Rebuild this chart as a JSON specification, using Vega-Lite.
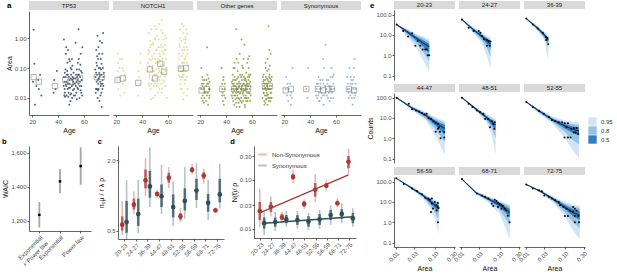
{
"$schema":"https://vega.github.io/schema/vega-lite/v6.json",
"padding":1,
"config":{"font":"Liberation Sans","view":{"stroke":null},
"axis":{"grid":false,"domainColor":"#222","domainWidth":0.7,"tickColor":"#222","tickWidth":0.7,"tickSize":2,"labelFontSize":6,"labelColor":"#4d4d4d","labelPadding":1,"titleFontSize":7,"titleFontWeight":"normal","titleColor":"#111","titlePadding":2},
"title":{"fontSize":7.5,"fontWeight":"bold","anchor":"start","frame":"bounds","offset":1,"color":"#000"},
"legend":{"labelFontSize":6,"labelColor":"#333"}},
"datasets":{
"aLab":[{"n":"TP53"},{"n":"NOTCH1"},{"n":"Other genes"},{"n":"Synonymous"}],
"a":[
{"k":"p","g":"T","a":21,"v":1.9},{"k":"p","g":"T","a":21.5,"v":0.14},{"k":"p","g":"T","a":22,"v":0.006},{"k":"p","g":"T","a":20.5,"v":0.035},{"k":"p","g":"T","a":23,"v":0.025},{"k":"p","g":"T","a":25,"v":0.02},{"k":"p","g":"T","a":26,"v":0.06},{"k":"p","g":"T","a":27,"v":0.012},{"k":"p","g":"T","a":24.5,"v":0.04},{"k":"p","g":"T","a":37,"v":0.04},{"k":"p","g":"T","a":38,"v":0.02},{"k":"p","g":"T","a":36.5,"v":0.015},{"k":"p","g":"T","a":39,"v":0.08},
{"k":"p","g":"T","a":44.5,"v":0.9},{"k":"p","g":"T","a":45,"v":0.02},{"k":"p","g":"T","a":45.5,"v":0.05},{"k":"p","g":"T","a":46,"v":0.3},{"k":"p","g":"T","a":46.5,"v":0.012},{"k":"p","g":"T","a":47,"v":0.08},{"k":"p","g":"T","a":47.5,"v":0.03},{"k":"p","g":"T","a":48,"v":0.015},{"k":"p","g":"T","a":48.5,"v":0.2},{"k":"p","g":"T","a":49,"v":0.04},{"k":"p","g":"T","a":49.5,"v":0.008},{"k":"p","g":"T","a":50,"v":0.06},{"k":"p","g":"T","a":50.5,"v":0.025},{"k":"p","g":"T","a":51,"v":0.12},{"k":"p","g":"T","a":51.5,"v":0.018},{"k":"p","g":"T","a":52,"v":0.045},{"k":"p","g":"T","a":46.2,"v":0.5},{"k":"p","g":"T","a":48.7,"v":0.006},{"k":"p","g":"T","a":44.8,"v":0.035},{"k":"p","g":"T","a":50.8,"v":0.01},{"k":"p","g":"T","a":45.2,"v":0.07},{"k":"p","g":"T","a":47.2,"v":0.15},{"k":"p","g":"T","a":49.2,"v":0.022},{"k":"p","g":"T","a":51.2,"v":0.05},
{"k":"p","g":"T","a":44.3,"v":0.025},{"k":"p","g":"T","a":44.7,"v":0.012},{"k":"p","g":"T","a":45.7,"v":0.09},{"k":"p","g":"T","a":46.3,"v":0.025},{"k":"p","g":"T","a":46.7,"v":0.06},{"k":"p","g":"T","a":47.3,"v":0.02},{"k":"p","g":"T","a":47.7,"v":0.4},{"k":"p","g":"T","a":48.3,"v":0.05},{"k":"p","g":"T","a":48.9,"v":0.03},{"k":"p","g":"T","a":49.7,"v":0.1},{"k":"p","g":"T","a":50.2,"v":0.014},{"k":"p","g":"T","a":50.7,"v":0.2},{"k":"p","g":"T","a":51.7,"v":0.035},{"k":"p","g":"T","a":51.9,"v":0.07},{"k":"p","g":"T","a":45.1,"v":0.015},{"k":"p","g":"T","a":49.9,"v":0.045},{"k":"p","g":"T","a":52.3,"v":0.02},
{"k":"p","g":"T","a":44.4,"v":0.05},{"k":"p","g":"T","a":45.4,"v":0.011},{"k":"p","g":"T","a":46.4,"v":0.035},{"k":"p","g":"T","a":47.4,"v":0.06},{"k":"p","g":"T","a":48.4,"v":0.022},{"k":"p","g":"T","a":49.4,"v":0.013},{"k":"p","g":"T","a":50.4,"v":0.09},{"k":"p","g":"T","a":51.4,"v":0.028},{"k":"p","g":"T","a":52.1,"v":0.012},{"k":"p","g":"T","a":45.9,"v":0.028},{"k":"p","g":"T","a":47.9,"v":0.011},{"k":"p","g":"T","a":49.1,"v":0.17},{"k":"p","g":"T","a":50.9,"v":0.04},
{"k":"p","g":"T","a":53,"v":0.03},{"k":"p","g":"T","a":53.5,"v":0.7},{"k":"p","g":"T","a":54,"v":0.015},{"k":"p","g":"T","a":54.5,"v":0.09},{"k":"p","g":"T","a":55,"v":0.04},{"k":"p","g":"T","a":55.5,"v":0.02},{"k":"p","g":"T","a":56,"v":0.2},{"k":"p","g":"T","a":56.5,"v":0.01},{"k":"p","g":"T","a":57,"v":0.05},{"k":"p","g":"T","a":57.5,"v":0.3},{"k":"p","g":"T","a":58,"v":0.025},{"k":"p","g":"T","a":58.5,"v":0.012},{"k":"p","g":"T","a":55.8,"v":2.0},{"k":"p","g":"T","a":53.8,"v":0.06},{"k":"p","g":"T","a":57.2,"v":0.13},{"k":"p","g":"T","a":54.2,"v":0.035},
{"k":"p","g":"T","a":53.2,"v":0.012},{"k":"p","g":"T","a":53.7,"v":0.025},{"k":"p","g":"T","a":54.7,"v":0.05},{"k":"p","g":"T","a":55.2,"v":0.15},{"k":"p","g":"T","a":55.7,"v":0.03},{"k":"p","g":"T","a":56.2,"v":0.06},{"k":"p","g":"T","a":56.7,"v":0.025},{"k":"p","g":"T","a":57.7,"v":0.08},{"k":"p","g":"T","a":58.2,"v":0.04},{"k":"p","g":"T","a":58.7,"v":0.5},{"k":"p","g":"T","a":54.4,"v":0.009},{"k":"p","g":"T","a":57.4,"v":0.018},
{"k":"p","g":"T","a":53.4,"v":0.045},{"k":"p","g":"T","a":54.9,"v":0.022},{"k":"p","g":"T","a":56.4,"v":0.09},{"k":"p","g":"T","a":57.9,"v":0.015},{"k":"p","g":"T","a":58.4,"v":0.07},{"k":"p","g":"T","a":55.4,"v":0.06},{"k":"p","g":"T","a":56.9,"v":0.035},
{"k":"p","g":"T","a":69,"v":0.05},{"k":"p","g":"T","a":69.5,"v":0.4},{"k":"p","g":"T","a":70,"v":0.02},{"k":"p","g":"T","a":70.5,"v":1.2},{"k":"p","g":"T","a":71,"v":0.03},{"k":"p","g":"T","a":71.5,"v":0.1},{"k":"p","g":"T","a":72,"v":0.008},{"k":"p","g":"T","a":72.5,"v":0.06},{"k":"p","g":"T","a":73,"v":0.2},{"k":"p","g":"T","a":73.5,"v":0.015},{"k":"p","g":"T","a":74,"v":0.7},{"k":"p","g":"T","a":74.5,"v":0.04},{"k":"p","g":"T","a":75,"v":0.025},{"k":"p","g":"T","a":70.2,"v":0.25},{"k":"p","g":"T","a":72.8,"v":0.012},{"k":"p","g":"T","a":74.8,"v":1.5},{"k":"p","g":"T","a":71.8,"v":0.07},{"k":"p","g":"T","a":69.8,"v":0.035},{"k":"p","g":"T","a":73.8,"v":0.005},{"k":"p","g":"T","a":70.8,"v":0.018},{"k":"p","g":"T","a":73.2,"v":0.09},{"k":"p","g":"T","a":74.2,"v":0.3},{"k":"p","g":"T","a":71.2,"v":0.5},
{"k":"p","g":"T","a":68.7,"v":0.09},{"k":"p","g":"T","a":69.3,"v":0.02},{"k":"p","g":"T","a":69.7,"v":0.15},{"k":"p","g":"T","a":70.3,"v":0.06},{"k":"p","g":"T","a":70.7,"v":0.04},{"k":"p","g":"T","a":71.3,"v":0.02},{"k":"p","g":"T","a":71.7,"v":0.3},{"k":"p","g":"T","a":72.2,"v":0.05},{"k":"p","g":"T","a":72.7,"v":0.1},{"k":"p","g":"T","a":73.3,"v":0.03},{"k":"p","g":"T","a":73.7,"v":0.06},{"k":"p","g":"T","a":74.3,"v":0.02},{"k":"p","g":"T","a":74.7,"v":0.1},{"k":"p","g":"T","a":75.2,"v":0.05},{"k":"p","g":"T","a":72.4,"v":0.8},{"k":"p","g":"T","a":70.6,"v":0.01},
{"k":"p","g":"T","a":69.4,"v":0.07},{"k":"p","g":"T","a":70.1,"v":0.12},{"k":"p","g":"T","a":71.4,"v":0.045},{"k":"p","g":"T","a":72.9,"v":0.025},{"k":"p","g":"T","a":73.6,"v":0.14},{"k":"p","g":"T","a":74.4,"v":0.03},{"k":"p","g":"T","a":75.4,"v":0.07},{"k":"p","g":"T","a":69.1,"v":0.015},{"k":"p","g":"T","a":70.9,"v":0.2},{"k":"p","g":"T","a":72.6,"v":0.035},
{"k":"p","g":"N","a":21,"v":0.3},{"k":"p","g":"N","a":21.5,"v":0.02},{"k":"p","g":"N","a":22,"v":0.05},{"k":"p","g":"N","a":22.5,"v":0.1},{"k":"p","g":"N","a":23,"v":0.012},{"k":"p","g":"N","a":20.5,"v":0.04},{"k":"p","g":"N","a":24.5,"v":0.2},{"k":"p","g":"N","a":25,"v":0.03},{"k":"p","g":"N","a":25.5,"v":0.08},{"k":"p","g":"N","a":26,"v":0.015},{"k":"p","g":"N","a":26.5,"v":0.06},{"k":"p","g":"N","a":37,"v":0.08},{"k":"p","g":"N","a":38,"v":0.03},{"k":"p","g":"N","a":38.5,"v":0.15},{"k":"p","g":"N","a":36.5,"v":0.012},
{"k":"p","g":"N","a":20.8,"v":0.08},{"k":"p","g":"N","a":22.8,"v":0.2},{"k":"p","g":"N","a":24.8,"v":0.1},{"k":"p","g":"N","a":26.3,"v":0.04},{"k":"p","g":"N","a":37.6,"v":0.05},{"k":"p","g":"N","a":38.8,"v":0.3},{"k":"p","g":"N","a":21.3,"v":0.15},
{"k":"p","g":"N","a":44.5,"v":0.3},{"k":"p","g":"N","a":45,"v":1.5},{"k":"p","g":"N","a":45.5,"v":0.05},{"k":"p","g":"N","a":46,"v":0.12},{"k":"p","g":"N","a":46.5,"v":0.02},{"k":"p","g":"N","a":47,"v":0.6},{"k":"p","g":"N","a":47.5,"v":0.04},{"k":"p","g":"N","a":48,"v":0.2},{"k":"p","g":"N","a":48.5,"v":0.01},{"k":"p","g":"N","a":49,"v":0.08},{"k":"p","g":"N","a":49.5,"v":2.5},{"k":"p","g":"N","a":50,"v":0.03},{"k":"p","g":"N","a":50.5,"v":0.15},{"k":"p","g":"N","a":51,"v":0.06},{"k":"p","g":"N","a":51.5,"v":0.4},{"k":"p","g":"N","a":52,"v":0.015},{"k":"p","g":"N","a":52.5,"v":0.1},{"k":"p","g":"N","a":53,"v":0.9},{"k":"p","g":"N","a":53.5,"v":0.04},{"k":"p","g":"N","a":54,"v":0.25},{"k":"p","g":"N","a":54.5,"v":0.07},{"k":"p","g":"N","a":55,"v":4.0},{"k":"p","g":"N","a":55.5,"v":0.02},{"k":"p","g":"N","a":56,"v":0.5},{"k":"p","g":"N","a":56.5,"v":0.13},{"k":"p","g":"N","a":57,"v":0.035},{"k":"p","g":"N","a":57.5,"v":1.2},{"k":"p","g":"N","a":58,"v":0.06},{"k":"p","g":"N","a":58.5,"v":0.2},{"k":"p","g":"N","a":59,"v":0.01},{"k":"p","g":"N","a":46.8,"v":0.009},{"k":"p","g":"N","a":51.2,"v":0.025},{"k":"p","g":"N","a":54.8,"v":1.8},{"k":"p","g":"N","a":48.2,"v":0.7},{"k":"p","g":"N","a":56.8,"v":0.3},{"k":"p","g":"N","a":52.8,"v":0.05},{"k":"p","g":"N","a":45.8,"v":0.35},{"k":"p","g":"N","a":49.8,"v":0.9},{"k":"p","g":"N","a":53.8,"v":0.18},{"k":"p","g":"N","a":57.8,"v":0.6},
{"k":"p","g":"N","a":44.2,"v":0.08},{"k":"p","g":"N","a":44.8,"v":0.03},{"k":"p","g":"N","a":45.3,"v":0.2},{"k":"p","g":"N","a":45.9,"v":0.06},{"k":"p","g":"N","a":46.3,"v":0.5},{"k":"p","g":"N","a":46.6,"v":0.08},{"k":"p","g":"N","a":47.3,"v":0.03},{"k":"p","g":"N","a":47.8,"v":0.25},{"k":"p","g":"N","a":48.4,"v":0.12},{"k":"p","g":"N","a":48.8,"v":0.04},{"k":"p","g":"N","a":49.3,"v":0.3},{"k":"p","g":"N","a":49.6,"v":0.06},{"k":"p","g":"N","a":50.3,"v":1.0},{"k":"p","g":"N","a":50.8,"v":0.09},{"k":"p","g":"N","a":51.4,"v":0.15},{"k":"p","g":"N","a":51.8,"v":0.03},{"k":"p","g":"N","a":52.3,"v":0.2},{"k":"p","g":"N","a":52.6,"v":0.5},{"k":"p","g":"N","a":53.3,"v":0.08},{"k":"p","g":"N","a":53.6,"v":0.3},{"k":"p","g":"N","a":54.3,"v":0.05},{"k":"p","g":"N","a":54.6,"v":0.6},{"k":"p","g":"N","a":55.3,"v":0.1},{"k":"p","g":"N","a":55.8,"v":0.2},{"k":"p","g":"N","a":56.3,"v":0.04},{"k":"p","g":"N","a":56.6,"v":0.9},{"k":"p","g":"N","a":57.3,"v":0.15},{"k":"p","g":"N","a":57.6,"v":0.05},{"k":"p","g":"N","a":58.3,"v":0.4},{"k":"p","g":"N","a":58.8,"v":0.1},{"k":"p","g":"N","a":55.1,"v":0.015},{"k":"p","g":"N","a":50.1,"v":0.012},{"k":"p","g":"N","a":47.1,"v":2.0},{"k":"p","g":"N","a":53.1,"v":3.0},
{"k":"p","g":"N","a":44.6,"v":0.15},{"k":"p","g":"N","a":45.1,"v":0.4},{"k":"p","g":"N","a":45.6,"v":0.025},{"k":"p","g":"N","a":46.1,"v":0.8},{"k":"p","g":"N","a":46.9,"v":0.18},{"k":"p","g":"N","a":47.6,"v":0.1},{"k":"p","g":"N","a":48.6,"v":0.6},{"k":"p","g":"N","a":49.1,"v":0.025},{"k":"p","g":"N","a":49.9,"v":0.2},{"k":"p","g":"N","a":50.6,"v":0.4},{"k":"p","g":"N","a":51.1,"v":0.045},{"k":"p","g":"N","a":51.6,"v":1.2},{"k":"p","g":"N","a":52.1,"v":0.07},{"k":"p","g":"N","a":52.9,"v":0.15},{"k":"p","g":"N","a":53.4,"v":0.02},{"k":"p","g":"N","a":53.9,"v":0.5},{"k":"p","g":"N","a":54.4,"v":0.12},{"k":"p","g":"N","a":54.9,"v":0.03},{"k":"p","g":"N","a":55.6,"v":0.35},{"k":"p","g":"N","a":56.1,"v":0.07},{"k":"p","g":"N","a":56.9,"v":0.12},{"k":"p","g":"N","a":57.4,"v":0.4},{"k":"p","g":"N","a":57.9,"v":0.08},{"k":"p","g":"N","a":58.6,"v":1.0},{"k":"p","g":"N","a":58.1,"v":0.025},{"k":"p","g":"N","a":46.4,"v":0.03},{"k":"p","g":"N","a":50.9,"v":2.0},{"k":"p","g":"N","a":55.9,"v":1.5},
{"k":"p","g":"N","a":68.5,"v":0.2},{"k":"p","g":"N","a":69,"v":0.05},{"k":"p","g":"N","a":69.5,"v":1.0},{"k":"p","g":"N","a":70,"v":0.1},{"k":"p","g":"N","a":70.5,"v":0.02},{"k":"p","g":"N","a":71,"v":0.4},{"k":"p","g":"N","a":71.5,"v":0.06},{"k":"p","g":"N","a":72,"v":2.5},{"k":"p","g":"N","a":72.5,"v":0.15},{"k":"p","g":"N","a":73,"v":0.03},{"k":"p","g":"N","a":73.5,"v":0.7},{"k":"p","g":"N","a":74,"v":0.08},{"k":"p","g":"N","a":74.5,"v":0.012},{"k":"p","g":"N","a":75,"v":0.3},{"k":"p","g":"N","a":70.8,"v":3.0},{"k":"p","g":"N","a":73.2,"v":0.04},{"k":"p","g":"N","a":69.2,"v":0.5},{"k":"p","g":"N","a":74.8,"v":1.4},{"k":"p","g":"N","a":71.8,"v":0.009},{"k":"p","g":"N","a":72.8,"v":0.2},{"k":"p","g":"N","a":70.4,"v":0.8},{"k":"p","g":"N","a":73.6,"v":1.1},
{"k":"p","g":"N","a":68.3,"v":0.06},{"k":"p","g":"N","a":68.8,"v":0.3},{"k":"p","g":"N","a":69.3,"v":0.12},{"k":"p","g":"N","a":69.7,"v":0.03},{"k":"p","g":"N","a":70.3,"v":0.25},{"k":"p","g":"N","a":70.6,"v":0.05},{"k":"p","g":"N","a":71.3,"v":0.15},{"k":"p","g":"N","a":71.6,"v":1.5},{"k":"p","g":"N","a":72.3,"v":0.06},{"k":"p","g":"N","a":72.6,"v":0.4},{"k":"p","g":"N","a":73.3,"v":0.1},{"k":"p","g":"N","a":73.8,"v":0.25},{"k":"p","g":"N","a":74.3,"v":0.5},{"k":"p","g":"N","a":74.6,"v":0.05},{"k":"p","g":"N","a":75.2,"v":0.12},{"k":"p","g":"N","a":69.9,"v":0.02},{"k":"p","g":"N","a":72.1,"v":0.015},{"k":"p","g":"N","a":74.1,"v":2.0},{"k":"p","g":"N","a":71.1,"v":0.08},{"k":"p","g":"N","a":73.9,"v":0.9},
{"k":"p","g":"N","a":68.6,"v":0.1},{"k":"p","g":"N","a":69.1,"v":0.6},{"k":"p","g":"N","a":69.6,"v":0.08},{"k":"p","g":"N","a":70.1,"v":0.04},{"k":"p","g":"N","a":70.9,"v":0.15},{"k":"p","g":"N","a":71.4,"v":0.3},{"k":"p","g":"N","a":71.9,"v":0.05},{"k":"p","g":"N","a":72.4,"v":0.9},{"k":"p","g":"N","a":72.9,"v":0.08},{"k":"p","g":"N","a":73.4,"v":0.2},{"k":"p","g":"N","a":73.7,"v":0.04},{"k":"p","g":"N","a":74.4,"v":0.15},{"k":"p","g":"N","a":74.9,"v":0.4},{"k":"p","g":"N","a":75.1,"v":0.02},{"k":"p","g":"N","a":69.4,"v":2.0},{"k":"p","g":"N","a":72.2,"v":0.5},
{"k":"p","g":"O","a":20.5,"v":0.02},{"k":"p","g":"O","a":21,"v":0.01},{"k":"p","g":"O","a":21.5,"v":0.05},{"k":"p","g":"O","a":22,"v":0.008},{"k":"p","g":"O","a":22.5,"v":0.03},{"k":"p","g":"O","a":23,"v":0.015},{"k":"p","g":"O","a":20.8,"v":0.1},{"k":"p","g":"O","a":22.3,"v":0.02},{"k":"p","g":"O","a":24.5,"v":0.025},{"k":"p","g":"O","a":25,"v":0.012},{"k":"p","g":"O","a":25.5,"v":0.06},{"k":"p","g":"O","a":26,"v":0.006},{"k":"p","g":"O","a":26.5,"v":0.02},{"k":"p","g":"O","a":27,"v":0.035},{"k":"p","g":"O","a":25.2,"v":0.5},{"k":"p","g":"O","a":25.8,"v":0.015},
{"k":"p","g":"O","a":21.2,"v":0.03},{"k":"p","g":"O","a":21.8,"v":0.012},{"k":"p","g":"O","a":22.7,"v":0.007},{"k":"p","g":"O","a":23.3,"v":0.04},{"k":"p","g":"O","a":24.2,"v":0.015},{"k":"p","g":"O","a":24.8,"v":0.04},{"k":"p","g":"O","a":26.2,"v":0.03},{"k":"p","g":"O","a":26.8,"v":0.01},{"k":"p","g":"O","a":27.3,"v":0.02},{"k":"p","g":"O","a":36.8,"v":0.03},{"k":"p","g":"O","a":37.3,"v":0.015},{"k":"p","g":"O","a":38.7,"v":0.02},{"k":"p","g":"O","a":39.3,"v":0.01},
{"k":"p","g":"O","a":21.6,"v":0.025},{"k":"p","g":"O","a":22.1,"v":0.04},{"k":"p","g":"O","a":23.1,"v":0.01},{"k":"p","g":"O","a":24.6,"v":0.008},{"k":"p","g":"O","a":25.4,"v":0.03},{"k":"p","g":"O","a":26.4,"v":0.045},{"k":"p","g":"O","a":27.1,"v":0.012},{"k":"p","g":"O","a":37.8,"v":0.04},{"k":"p","g":"O","a":36.9,"v":0.012},
{"k":"p","g":"O","a":37,"v":0.02},{"k":"p","g":"O","a":37.5,"v":0.008},{"k":"p","g":"O","a":38,"v":0.05},{"k":"p","g":"O","a":38.5,"v":0.012},{"k":"p","g":"O","a":39,"v":0.03},{"k":"p","g":"O","a":36.5,"v":0.1},{"k":"p","g":"O","a":38.2,"v":0.006},
{"k":"p","g":"O","a":44.5,"v":0.02},{"k":"p","g":"O","a":45,"v":0.06},{"k":"p","g":"O","a":45.5,"v":0.008},{"k":"p","g":"O","a":46,"v":0.03},{"k":"p","g":"O","a":46.5,"v":0.15},{"k":"p","g":"O","a":47,"v":0.012},{"k":"p","g":"O","a":47.5,"v":0.04},{"k":"p","g":"O","a":48,"v":0.005},{"k":"p","g":"O","a":48.5,"v":0.02},{"k":"p","g":"O","a":49,"v":0.08},{"k":"p","g":"O","a":49.5,"v":0.01},{"k":"p","g":"O","a":50,"v":0.035},{"k":"p","g":"O","a":50.5,"v":0.3},{"k":"p","g":"O","a":51,"v":0.015},{"k":"p","g":"O","a":51.5,"v":0.05},{"k":"p","g":"O","a":52,"v":0.007},{"k":"p","g":"O","a":52.5,"v":0.025},{"k":"p","g":"O","a":53,"v":0.1},{"k":"p","g":"O","a":53.5,"v":0.012},{"k":"p","g":"O","a":54,"v":0.04},{"k":"p","g":"O","a":54.5,"v":0.006},{"k":"p","g":"O","a":55,"v":0.02},{"k":"p","g":"O","a":55.5,"v":0.07},{"k":"p","g":"O","a":56,"v":0.01},{"k":"p","g":"O","a":56.5,"v":0.03},{"k":"p","g":"O","a":57,"v":0.2},{"k":"p","g":"O","a":57.5,"v":0.015},{"k":"p","g":"O","a":58,"v":0.05},{"k":"p","g":"O","a":58.5,"v":0.008},{"k":"p","g":"O","a":59,"v":0.025},{"k":"p","g":"O","a":46.2,"v":0.018},{"k":"p","g":"O","a":49.8,"v":0.022},{"k":"p","g":"O","a":53.2,"v":0.016},{"k":"p","g":"O","a":55.8,"v":0.028},{"k":"p","g":"O","a":47.8,"v":2.0},{"k":"p","g":"O","a":54.2,"v":0.6},{"k":"p","g":"O","a":45.3,"v":0.04},{"k":"p","g":"O","a":47.3,"v":0.009},{"k":"p","g":"O","a":49.3,"v":0.05},{"k":"p","g":"O","a":51.3,"v":0.02},{"k":"p","g":"O","a":53.3,"v":0.03},{"k":"p","g":"O","a":55.3,"v":0.012},{"k":"p","g":"O","a":57.3,"v":0.04},
{"k":"p","g":"O","a":44.3,"v":0.012},{"k":"p","g":"O","a":44.8,"v":0.03},{"k":"p","g":"O","a":45.2,"v":0.015},{"k":"p","g":"O","a":45.8,"v":0.025},{"k":"p","g":"O","a":46.3,"v":0.006},{"k":"p","g":"O","a":46.8,"v":0.04},{"k":"p","g":"O","a":47.2,"v":0.02},{"k":"p","g":"O","a":47.7,"v":0.007},{"k":"p","g":"O","a":48.3,"v":0.03},{"k":"p","g":"O","a":48.7,"v":0.012},{"k":"p","g":"O","a":49.2,"v":0.016},{"k":"p","g":"O","a":49.6,"v":0.03},{"k":"p","g":"O","a":50.2,"v":0.009},{"k":"p","g":"O","a":50.8,"v":0.06},{"k":"p","g":"O","a":51.2,"v":0.008},{"k":"p","g":"O","a":51.7,"v":0.02},{"k":"p","g":"O","a":52.2,"v":0.04},{"k":"p","g":"O","a":52.8,"v":0.014},{"k":"p","g":"O","a":53.6,"v":0.02},{"k":"p","g":"O","a":53.8,"v":0.05},{"k":"p","g":"O","a":54.3,"v":0.01},{"k":"p","g":"O","a":54.8,"v":0.025},{"k":"p","g":"O","a":55.2,"v":0.04},{"k":"p","g":"O","a":55.6,"v":0.008},{"k":"p","g":"O","a":56.2,"v":0.02},{"k":"p","g":"O","a":56.8,"v":0.05},{"k":"p","g":"O","a":57.2,"v":0.01},{"k":"p","g":"O","a":57.8,"v":0.03},{"k":"p","g":"O","a":58.2,"v":0.014},{"k":"p","g":"O","a":58.8,"v":0.06},{"k":"p","g":"O","a":46.6,"v":0.1},{"k":"p","g":"O","a":52.6,"v":0.12},{"k":"p","g":"O","a":56.4,"v":0.15},{"k":"p","g":"O","a":50.4,"v":0.005},{"k":"p","g":"O","a":54.6,"v":0.005},{"k":"p","g":"O","a":48.1,"v":0.2},{"k":"p","g":"O","a":57.9,"v":0.25},{"k":"p","g":"O","a":51.9,"v":0.9},
{"k":"p","g":"O","a":44.4,"v":0.035},{"k":"p","g":"O","a":44.9,"v":0.01},{"k":"p","g":"O","a":45.6,"v":0.02},{"k":"p","g":"O","a":46.1,"v":0.012},{"k":"p","g":"O","a":46.4,"v":0.05},{"k":"p","g":"O","a":46.9,"v":0.025},{"k":"p","g":"O","a":47.6,"v":0.015},{"k":"p","g":"O","a":48.2,"v":0.01},{"k":"p","g":"O","a":48.6,"v":0.045},{"k":"p","g":"O","a":49.1,"v":0.02},{"k":"p","g":"O","a":49.7,"v":0.007},{"k":"p","g":"O","a":50.1,"v":0.025},{"k":"p","g":"O","a":50.6,"v":0.014},{"k":"p","g":"O","a":51.1,"v":0.03},{"k":"p","g":"O","a":51.6,"v":0.01},{"k":"p","g":"O","a":52.1,"v":0.02},{"k":"p","g":"O","a":52.4,"v":0.06},{"k":"p","g":"O","a":53.1,"v":0.008},{"k":"p","g":"O","a":53.7,"v":0.03},{"k":"p","g":"O","a":54.1,"v":0.018},{"k":"p","g":"O","a":54.7,"v":0.045},{"k":"p","g":"O","a":55.1,"v":0.01},{"k":"p","g":"O","a":55.7,"v":0.035},{"k":"p","g":"O","a":56.1,"v":0.015},{"k":"p","g":"O","a":56.6,"v":0.008},{"k":"p","g":"O","a":57.1,"v":0.025},{"k":"p","g":"O","a":57.6,"v":0.06},{"k":"p","g":"O","a":58.1,"v":0.02},{"k":"p","g":"O","a":58.6,"v":0.035},{"k":"p","g":"O","a":59.1,"v":0.012},{"k":"p","g":"O","a":45.7,"v":0.1},{"k":"p","g":"O","a":49.4,"v":0.15},{"k":"p","g":"O","a":53.4,"v":0.2},{"k":"p","g":"O","a":57.4,"v":0.1},
{"k":"p","g":"O","a":68.5,"v":0.02},{"k":"p","g":"O","a":69,"v":0.06},{"k":"p","g":"O","a":69.5,"v":0.008},{"k":"p","g":"O","a":70,"v":0.03},{"k":"p","g":"O","a":70.5,"v":0.15},{"k":"p","g":"O","a":71,"v":0.012},{"k":"p","g":"O","a":71.5,"v":0.045},{"k":"p","g":"O","a":72,"v":0.006},{"k":"p","g":"O","a":72.5,"v":0.02},{"k":"p","g":"O","a":73,"v":0.09},{"k":"p","g":"O","a":73.5,"v":0.01},{"k":"p","g":"O","a":74,"v":0.035},{"k":"p","g":"O","a":74.5,"v":0.3},{"k":"p","g":"O","a":75,"v":0.015},{"k":"p","g":"O","a":70.2,"v":0.022},{"k":"p","g":"O","a":72.8,"v":2.5},{"k":"p","g":"O","a":71.2,"v":0.018},{"k":"p","g":"O","a":73.8,"v":0.025},{"k":"p","g":"O","a":69.3,"v":0.04},{"k":"p","g":"O","a":71.3,"v":0.009},{"k":"p","g":"O","a":73.3,"v":0.05},{"k":"p","g":"O","a":74.7,"v":0.02},
{"k":"p","g":"O","a":68.2,"v":0.01},{"k":"p","g":"O","a":68.8,"v":0.035},{"k":"p","g":"O","a":69.2,"v":0.015},{"k":"p","g":"O","a":69.7,"v":0.02},{"k":"p","g":"O","a":70.4,"v":0.007},{"k":"p","g":"O","a":70.8,"v":0.05},{"k":"p","g":"O","a":71.6,"v":0.025},{"k":"p","g":"O","a":71.9,"v":0.012},{"k":"p","g":"O","a":72.3,"v":0.04},{"k":"p","g":"O","a":72.6,"v":0.01},{"k":"p","g":"O","a":73.1,"v":0.02},{"k":"p","g":"O","a":73.6,"v":0.06},{"k":"p","g":"O","a":74.2,"v":0.008},{"k":"p","g":"O","a":74.4,"v":0.015},{"k":"p","g":"O","a":74.9,"v":0.04},{"k":"p","g":"O","a":75.3,"v":0.01},{"k":"p","g":"O","a":70.6,"v":0.1},{"k":"p","g":"O","a":72.2,"v":0.2},{"k":"p","g":"O","a":73.4,"v":0.4},{"k":"p","g":"O","a":69.6,"v":0.006},
{"k":"p","g":"O","a":68.4,"v":0.05},{"k":"p","g":"O","a":68.9,"v":0.015},{"k":"p","g":"O","a":69.4,"v":0.025},{"k":"p","g":"O","a":69.9,"v":0.012},{"k":"p","g":"O","a":70.3,"v":0.04},{"k":"p","g":"O","a":70.7,"v":0.02},{"k":"p","g":"O","a":71.1,"v":0.03},{"k":"p","g":"O","a":71.4,"v":0.015},{"k":"p","g":"O","a":71.8,"v":0.08},{"k":"p","g":"O","a":72.1,"v":0.025},{"k":"p","g":"O","a":72.4,"v":0.013},{"k":"p","g":"O","a":72.9,"v":0.035},{"k":"p","g":"O","a":73.2,"v":0.008},{"k":"p","g":"O","a":73.7,"v":0.02},{"k":"p","g":"O","a":74.1,"v":0.045},{"k":"p","g":"O","a":74.6,"v":0.01},{"k":"p","g":"O","a":75.1,"v":0.025},{"k":"p","g":"O","a":75.4,"v":0.05},{"k":"p","g":"O","a":70.9,"v":0.009},{"k":"p","g":"O","a":73.9,"v":0.12},
{"k":"p","g":"S","a":21,"v":0.02},{"k":"p","g":"S","a":22,"v":0.012},{"k":"p","g":"S","a":23,"v":0.008},{"k":"p","g":"S","a":24.5,"v":0.03},{"k":"p","g":"S","a":25.5,"v":0.015},{"k":"p","g":"S","a":26.5,"v":0.1},{"k":"p","g":"S","a":25,"v":0.006},{"k":"p","g":"S","a":37,"v":0.02},{"k":"p","g":"S","a":38,"v":0.01},{"k":"p","g":"S","a":38.5,"v":0.1},{"k":"p","g":"S","a":21.5,"v":0.05},{"k":"p","g":"S","a":23.5,"v":0.02},{"k":"p","g":"S","a":26,"v":0.01},{"k":"p","g":"S","a":22.5,"v":0.03},{"k":"p","g":"S","a":24.8,"v":0.012},
{"k":"p","g":"S","a":45,"v":0.02},{"k":"p","g":"S","a":45.5,"v":0.01},{"k":"p","g":"S","a":46.5,"v":0.05},{"k":"p","g":"S","a":47,"v":0.008},{"k":"p","g":"S","a":48,"v":0.03},{"k":"p","g":"S","a":49,"v":0.015},{"k":"p","g":"S","a":50,"v":0.2},{"k":"p","g":"S","a":50.5,"v":0.006},{"k":"p","g":"S","a":51.5,"v":0.025},{"k":"p","g":"S","a":53,"v":0.012},{"k":"p","g":"S","a":54,"v":0.04},{"k":"p","g":"S","a":55,"v":0.008},{"k":"p","g":"S","a":55.5,"v":0.02},{"k":"p","g":"S","a":56.5,"v":0.1},{"k":"p","g":"S","a":57,"v":0.015},{"k":"p","g":"S","a":58,"v":0.03},{"k":"p","g":"S","a":52,"v":0.6},
{"k":"p","g":"S","a":44.6,"v":0.012},{"k":"p","g":"S","a":46,"v":0.03},{"k":"p","g":"S","a":46.8,"v":0.015},{"k":"p","g":"S","a":47.6,"v":0.02},{"k":"p","g":"S","a":48.5,"v":0.01},{"k":"p","g":"S","a":49.5,"v":0.04},{"k":"p","g":"S","a":51,"v":0.012},{"k":"p","g":"S","a":52.5,"v":0.02},{"k":"p","g":"S","a":53.5,"v":0.03},{"k":"p","g":"S","a":54.5,"v":0.015},{"k":"p","g":"S","a":56,"v":0.01},{"k":"p","g":"S","a":57.5,"v":0.05},{"k":"p","g":"S","a":58.5,"v":0.02},{"k":"p","g":"S","a":50.8,"v":0.1},{"k":"p","g":"S","a":47.3,"v":0.008},
{"k":"p","g":"S","a":45.3,"v":0.03},{"k":"p","g":"S","a":46.3,"v":0.012},{"k":"p","g":"S","a":47.8,"v":0.04},{"k":"p","g":"S","a":48.8,"v":0.02},{"k":"p","g":"S","a":49.8,"v":0.012},{"k":"p","g":"S","a":50.3,"v":0.03},{"k":"p","g":"S","a":51.8,"v":0.015},{"k":"p","g":"S","a":52.8,"v":0.04},{"k":"p","g":"S","a":53.8,"v":0.01},{"k":"p","g":"S","a":54.8,"v":0.025},{"k":"p","g":"S","a":55.8,"v":0.05},{"k":"p","g":"S","a":56.8,"v":0.02},{"k":"p","g":"S","a":57.8,"v":0.01},{"k":"p","g":"S","a":58.3,"v":0.06},
{"k":"p","g":"S","a":69,"v":0.02},{"k":"p","g":"S","a":70,"v":0.01},{"k":"p","g":"S","a":70.5,"v":0.1},{"k":"p","g":"S","a":71.5,"v":0.03},{"k":"p","g":"S","a":72.5,"v":0.015},{"k":"p","g":"S","a":73,"v":0.006},{"k":"p","g":"S","a":74,"v":0.05},{"k":"p","g":"S","a":74.5,"v":0.2},{"k":"p","g":"S","a":75,"v":0.012},{"k":"p","g":"S","a":68.8,"v":0.05},{"k":"p","g":"S","a":69.6,"v":0.015},{"k":"p","g":"S","a":71,"v":0.012},{"k":"p","g":"S","a":72,"v":0.04},{"k":"p","g":"S","a":73.5,"v":0.02},{"k":"p","g":"S","a":74.2,"v":0.01},{"k":"p","g":"S","a":75.2,"v":0.03},{"k":"p","g":"S","a":73.8,"v":0.1},
{"k":"p","g":"S","a":69.3,"v":0.03},{"k":"p","g":"S","a":70.3,"v":0.02},{"k":"p","g":"S","a":71.3,"v":0.05},{"k":"p","g":"S","a":72.3,"v":0.01},{"k":"p","g":"S","a":72.8,"v":0.03},{"k":"p","g":"S","a":73.3,"v":0.04},{"k":"p","g":"S","a":74.8,"v":0.015},{"k":"p","g":"S","a":75.4,"v":0.02},
{"k":"m","g":"T","a":21,"v":0.05},{"k":"m","g":"T","a":25,"v":0.035},{"k":"m","g":"T","a":37.5,"v":0.025},{"k":"m","g":"T","a":45.5,"v":0.04},{"k":"m","g":"T","a":49.5,"v":0.035},{"k":"m","g":"T","a":53.5,"v":0.04},{"k":"m","g":"T","a":57,"v":0.045},{"k":"m","g":"T","a":70,"v":0.05},{"k":"m","g":"T","a":74,"v":0.05},
{"k":"m","g":"N","a":21,"v":0.04},{"k":"m","g":"N","a":25,"v":0.045},{"k":"m","g":"N","a":37,"v":0.032},{"k":"m","g":"N","a":46,"v":0.09},{"k":"m","g":"N","a":50,"v":0.045},{"k":"m","g":"N","a":54,"v":0.14},{"k":"m","g":"N","a":57,"v":0.075},{"k":"m","g":"N","a":70,"v":0.095},{"k":"m","g":"N","a":74,"v":0.1},
{"k":"m","g":"O","a":21,"v":0.018},{"k":"m","g":"O","a":25,"v":0.02},{"k":"m","g":"O","a":37,"v":0.02},{"k":"m","g":"O","a":46,"v":0.02},{"k":"m","g":"O","a":50,"v":0.02},{"k":"m","g":"O","a":54,"v":0.022},{"k":"m","g":"O","a":57,"v":0.02},{"k":"m","g":"O","a":70,"v":0.025},{"k":"m","g":"O","a":74,"v":0.025},
{"k":"m","g":"S","a":21,"v":0.018},{"k":"m","g":"S","a":25,"v":0.02},{"k":"m","g":"S","a":37,"v":0.02},{"k":"m","g":"S","a":46,"v":0.02},{"k":"m","g":"S","a":50,"v":0.018},{"k":"m","g":"S","a":54,"v":0.02},{"k":"m","g":"S","a":57,"v":0.02},{"k":"m","g":"S","a":70,"v":0.02},{"k":"m","g":"S","a":74,"v":0.018}
],
"b":[{"m":"Exponential + Power law","v":1235,"lo":1160,"hi":1310},{"m":"Exponential","v":1432,"lo":1362,"hi":1505},{"m":"Power law","v":1522,"lo":1412,"hi":1632}],
"c":[
{"age":"20-23","s":"Non-Synonymous","v":0.625,"lo":0.4,"hi":1.13,"lo2":0.5,"hi2":0.8},
{"age":"24-27","s":"Non-Synonymous","v":1.05,"lo":0.85,"hi":1.33,"lo2":0.95,"hi2":1.18},
{"age":"36-39","s":"Non-Synonymous","v":1.57,"lo":1.23,"hi":2.05,"lo2":1.4,"hi2":1.8},
{"age":"44-47","s":"Non-Synonymous","v":1.28,"lo":1.2,"hi":1.36,"lo2":1.23,"hi2":1.32},
{"age":"48-51","s":"Non-Synonymous","v":1.625,"lo":1.4,"hi":1.85,"lo2":1.52,"hi2":1.73},
{"age":"52-55","s":"Non-Synonymous","v":0.8,"lo":0.68,"hi":0.98,"lo2":0.73,"hi2":0.87},
{"age":"56-59","s":"Non-Synonymous","v":1.79,"lo":1.7,"hi":1.92,"lo2":1.74,"hi2":1.85},
{"age":"68-71","s":"Non-Synonymous","v":1.67,"lo":1.5,"hi":1.82,"lo2":1.6,"hi2":1.74},
{"age":"72-75","s":"Non-Synonymous","v":0.93,"lo":0.88,"hi":0.99,"lo2":0.9,"hi2":0.96},
{"age":"20-23","s":"Synonymous","v":0.68,"lo":0.3,"hi":1.57,"lo2":0.45,"hi2":1.13},
{"age":"24-27","s":"Synonymous","v":0.85,"lo":0.45,"hi":1.58,"lo2":0.6,"hi2":1.18},
{"age":"36-39","s":"Synonymous","v":1.44,"lo":1.0,"hi":2.27,"lo2":1.2,"hi2":1.77},
{"age":"44-47","s":"Synonymous","v":1.23,"lo":0.85,"hi":1.9,"lo2":1.0,"hi2":1.48},
{"age":"48-51","s":"Synonymous","v":1.0,"lo":0.6,"hi":1.55,"lo2":0.78,"hi2":1.27},
{"age":"52-55","s":"Synonymous","v":1.13,"lo":0.75,"hi":1.86,"lo2":0.93,"hi2":1.4},
{"age":"56-59","s":"Synonymous","v":1.35,"lo":0.98,"hi":1.93,"lo2":1.15,"hi2":1.6},
{"age":"68-71","s":"Synonymous","v":1.09,"lo":0.72,"hi":1.58,"lo2":0.9,"hi2":1.28},
{"age":"72-75","s":"Synonymous","v":1.27,"lo":0.97,"hi":1.92,"lo2":1.1,"hi2":1.6}],
"d":[
{"age":"20-23","s":"Non-Synonymous","v":0.023,"lo":0.011,"hi":0.065,"lo2":0.015,"hi2":0.035},
{"age":"24-27","s":"Non-Synonymous","v":0.028,"lo":0.018,"hi":0.045,"lo2":0.022,"hi2":0.035},
{"age":"36-39","s":"Non-Synonymous","v":0.017,"lo":0.013,"hi":0.022,"lo2":0.015,"hi2":0.02},
{"age":"44-47","s":"Non-Synonymous","v":0.113,"lo":0.085,"hi":0.16,"lo2":0.1,"hi2":0.13},
{"age":"48-51","s":"Non-Synonymous","v":0.032,"lo":0.025,"hi":0.04,"lo2":0.028,"hi2":0.036},
{"age":"52-55","s":"Non-Synonymous","v":0.062,"lo":0.035,"hi":0.13,"lo2":0.045,"hi2":0.085},
{"age":"56-59","s":"Non-Synonymous","v":0.075,"lo":0.06,"hi":0.1,"lo2":0.067,"hi2":0.085},
{"age":"68-71","s":"Non-Synonymous","v":0.033,"lo":0.027,"hi":0.042,"lo2":0.03,"hi2":0.037},
{"age":"72-75","s":"Non-Synonymous","v":0.23,"lo":0.13,"hi":0.42,"lo2":0.17,"hi2":0.3},
{"age":"20-23","s":"Synonymous","v":0.013,"lo":0.0075,"hi":0.022,"lo2":0.01,"hi2":0.017},
{"age":"24-27","s":"Synonymous","v":0.0137,"lo":0.009,"hi":0.022,"lo2":0.011,"hi2":0.017},
{"age":"36-39","s":"Synonymous","v":0.0155,"lo":0.011,"hi":0.023,"lo2":0.013,"hi2":0.019},
{"age":"44-47","s":"Synonymous","v":0.015,"lo":0.01,"hi":0.023,"lo2":0.012,"hi2":0.019},
{"age":"48-51","s":"Synonymous","v":0.014,"lo":0.0095,"hi":0.021,"lo2":0.011,"hi2":0.018},
{"age":"52-55","s":"Synonymous","v":0.0155,"lo":0.01,"hi":0.024,"lo2":0.012,"hi2":0.02},
{"age":"56-59","s":"Synonymous","v":0.019,"lo":0.012,"hi":0.03,"lo2":0.015,"hi2":0.024},
{"age":"68-71","s":"Synonymous","v":0.02,"lo":0.013,"hi":0.033,"lo2":0.016,"hi2":0.025},
{"age":"72-75","s":"Synonymous","v":0.0163,"lo":0.011,"hi":0.026,"lo2":0.013,"hi2":0.021}],
"dfit":[{"age":"20-23","s":"Non-Synonymous","v":0.021},{"age":"72-75","s":"Non-Synonymous","v":0.125},{"age":"20-23","s":"Synonymous","v":0.013},{"age":"72-75","s":"Synonymous","v":0.0175}],
"eLab":[{"n":"20-23","r":1},{"n":"24-27","r":1},{"n":"36-39","r":1},{"n":"44-47","r":2},{"n":"48-51","r":2},{"n":"52-55","r":2},{"n":"56-59","r":3},{"n":"68-71","r":3},{"n":"72-75","r":3}],
"e":[
{"t":"b","r":1,"g":"20-23","x":0.0106,"m":33,"l95":33,"h95":33,"l80":33,"h80":33,"l50":33,"h50":33},
{"t":"b","r":1,"g":"20-23","x":0.02,"m":14,"l95":8,"h95":20,"l80":10,"h80":18,"l50":12,"h50":16},
{"t":"b","r":1,"g":"20-23","x":0.035,"m":6.5,"l95":2,"h95":11,"l80":3.5,"h80":9.5,"l50":5,"h50":8},
{"t":"b","r":1,"g":"20-23","x":0.05,"m":4,"l95":0.6,"h95":8.5,"l80":1.5,"h80":7,"l50":2.8,"h50":5.5},
{"t":"b","r":1,"g":"20-23","x":0.072,"m":2.6,"l95":0.15,"h95":6,"l80":0.5,"h80":4.8,"l50":1.2,"h50":3.6},
{"t":"b","r":1,"g":"24-27","x":0.0108,"m":57,"l95":57,"h95":57,"l80":57,"h80":57,"l50":57,"h50":57},
{"t":"b","r":1,"g":"24-27","x":0.02,"m":20,"l95":14,"h95":26,"l80":16,"h80":24,"l50":18,"h50":22},
{"t":"b","r":1,"g":"24-27","x":0.035,"m":8.5,"l95":4,"h95":12.5,"l80":5.5,"h80":11,"l50":7,"h50":10},
{"t":"b","r":1,"g":"24-27","x":0.048,"m":5,"l95":0.8,"h95":9,"l80":2,"h80":7.5,"l50":3.5,"h50":6.5},
{"t":"b","r":1,"g":"24-27","x":0.058,"m":3.5,"l95":0.2,"h95":7.5,"l80":0.8,"h80":6,"l50":2,"h50":5},
{"t":"b","r":1,"g":"36-39","x":0.0104,"m":64,"l95":64,"h95":64,"l80":64,"h80":64,"l50":64,"h50":64},
{"t":"b","r":1,"g":"36-39","x":0.02,"m":22,"l95":16,"h95":28,"l80":18,"h80":26,"l50":20,"h50":24},
{"t":"b","r":1,"g":"36-39","x":0.03,"m":10,"l95":5.5,"h95":14,"l80":7,"h80":13,"l50":8.5,"h50":11.5},
{"t":"b","r":1,"g":"36-39","x":0.038,"m":5.5,"l95":0.5,"h95":9,"l80":2.5,"h80":8,"l50":4,"h50":7},
{"t":"b","r":2,"g":"44-47","x":0.0106,"m":100,"l95":100,"h95":100,"l80":100,"h80":100,"l50":100,"h50":100},
{"t":"b","r":2,"g":"44-47","x":0.025,"m":33,"l95":27,"h95":40,"l80":29,"h80":38,"l50":31,"h50":36},
{"t":"b","r":2,"g":"44-47","x":0.06,"m":13,"l95":7.5,"h95":19,"l80":9,"h80":17,"l50":11,"h50":15},
{"t":"b","r":2,"g":"44-47","x":0.1,"m":6.5,"l95":1.5,"h95":11,"l80":3,"h80":9.5,"l50":4.5,"h50":8},
{"t":"b","r":2,"g":"44-47","x":0.14,"m":4,"l95":0.4,"h95":8.5,"l80":1.2,"h80":7,"l50":2.5,"h50":5.5},
{"t":"b","r":2,"g":"44-47","x":0.18,"m":3,"l95":0.15,"h95":7,"l80":0.6,"h80":5.5,"l50":1.5,"h50":4.5},
{"t":"b","r":2,"g":"48-51","x":0.0108,"m":100,"l95":100,"h95":100,"l80":100,"h80":100,"l50":100,"h50":100},
{"t":"b","r":2,"g":"48-51","x":0.025,"m":27,"l95":21,"h95":33,"l80":23,"h80":31,"l50":25,"h50":29},
{"t":"b","r":2,"g":"48-51","x":0.045,"m":11,"l95":6.5,"h95":15.5,"l80":8,"h80":14,"l50":9.5,"h50":12.5},
{"t":"b","r":2,"g":"48-51","x":0.062,"m":6.5,"l95":1.5,"h95":11,"l80":3,"h80":9.5,"l50":4.5,"h50":8},
{"t":"b","r":2,"g":"48-51","x":0.078,"m":4.5,"l95":0.16,"h95":9,"l80":1,"h80":7.5,"l50":2.5,"h50":6},
{"t":"b","r":2,"g":"52-55","x":0.0104,"m":61,"l95":61,"h95":61,"l80":61,"h80":61,"l50":61,"h50":61},
{"t":"b","r":2,"g":"52-55","x":0.02,"m":25,"l95":19,"h95":31,"l80":21,"h80":29,"l50":23,"h50":27},
{"t":"b","r":2,"g":"52-55","x":0.05,"m":8,"l95":5,"h95":11.5,"l80":6,"h80":10,"l50":7,"h50":9},
{"t":"b","r":2,"g":"52-55","x":0.1,"m":4,"l95":1,"h95":7.5,"l80":2,"h80":6,"l50":3,"h50":5},
{"t":"b","r":2,"g":"52-55","x":0.16,"m":2.8,"l95":0.25,"h95":6.5,"l80":0.8,"h80":5,"l50":1.8,"h50":3.8},
{"t":"b","r":2,"g":"52-55","x":0.23,"m":2.3,"l95":0.11,"h95":6,"l80":0.5,"h80":4.5,"l50":1.4,"h50":3.5},
{"t":"b","r":3,"g":"56-59","x":0.0104,"m":146,"l95":146,"h95":146,"l80":146,"h80":146,"l50":146,"h50":146},
{"t":"b","r":3,"g":"56-59","x":0.025,"m":50,"l95":43,"h95":59,"l80":45,"h80":56,"l50":47,"h50":53},
{"t":"b","r":3,"g":"56-59","x":0.05,"m":21,"l95":15,"h95":27,"l80":17,"h80":25,"l50":19,"h50":23},
{"t":"b","r":3,"g":"56-59","x":0.08,"m":10,"l95":4.5,"h95":16,"l80":6,"h80":14,"l50":8,"h50":12},
{"t":"b","r":3,"g":"56-59","x":0.1,"m":7,"l95":1.5,"h95":13,"l80":3,"h80":11,"l50":5,"h50":9},
{"t":"b","r":3,"g":"56-59","x":0.125,"m":5,"l95":0.25,"h95":11,"l80":1.3,"h80":9,"l50":3,"h50":7},
{"t":"b","r":3,"g":"68-71","x":0.0108,"m":135,"l95":135,"h95":135,"l80":135,"h80":135,"l50":135,"h50":135},
{"t":"b","r":3,"g":"68-71","x":0.025,"m":28,"l95":23.5,"h95":32.5,"l80":25,"h80":31,"l50":26.5,"h50":29.5},
{"t":"b","r":3,"g":"68-71","x":0.05,"m":14.5,"l95":10,"h95":19,"l80":11.5,"h80":17.5,"l50":13,"h50":16},
{"t":"b","r":3,"g":"68-71","x":0.1,"m":7,"l95":2.5,"h95":11.5,"l80":4,"h80":10,"l50":5.5,"h50":8.5},
{"t":"b","r":3,"g":"68-71","x":0.14,"m":4.5,"l95":0.5,"h95":9,"l80":1.5,"h80":7.5,"l50":3,"h50":6},
{"t":"b","r":3,"g":"68-71","x":0.18,"m":3,"l95":0.15,"h95":7.5,"l80":0.7,"h80":6,"l50":1.8,"h50":4.5},
{"t":"b","r":3,"g":"72-75","x":0.0104,"m":73,"l95":73,"h95":73,"l80":73,"h80":73,"l50":73,"h50":73},
{"t":"b","r":3,"g":"72-75","x":0.025,"m":32,"l95":26,"h95":38,"l80":28,"h80":36,"l50":30,"h50":34},
{"t":"b","r":3,"g":"72-75","x":0.05,"m":14,"l95":9.5,"h95":18.5,"l80":11,"h80":17,"l50":12.5,"h50":15.5},
{"t":"b","r":3,"g":"72-75","x":0.1,"m":5.5,"l95":2,"h95":10,"l80":3,"h80":8.5,"l50":4.5,"h50":7},
{"t":"b","r":3,"g":"72-75","x":0.16,"m":3,"l95":0.4,"h95":7.5,"l80":1,"h80":6,"l50":2,"h50":4.5},
{"t":"b","r":3,"g":"72-75","x":0.24,"m":2.2,"l95":0.15,"h95":6.5,"l80":0.5,"h80":5,"l50":1.3,"h50":3.5},
{"t":"p","r":1,"g":"20-23","x":0.0106,"c":33},{"t":"p","r":1,"g":"20-23","x":0.0156,"c":15.6},{"t":"p","r":1,"g":"20-23","x":0.0208,"c":8.3},{"t":"p","r":1,"g":"20-23","x":0.0263,"c":12},{"t":"p","r":1,"g":"20-23","x":0.0318,"c":2.9},{"t":"p","r":1,"g":"20-23","x":0.0365,"c":5.1},{"t":"p","r":1,"g":"20-23","x":0.0425,"c":2.9},{"t":"p","r":1,"g":"20-23","x":0.0488,"c":1.9},{"t":"p","r":1,"g":"20-23","x":0.0567,"c":1.9},{"t":"p","r":1,"g":"20-23","x":0.062,"c":1.9},{"t":"p","r":1,"g":"20-23","x":0.066,"c":1},{"t":"p","r":1,"g":"20-23","x":0.072,"c":1},
{"t":"p","r":1,"g":"24-27","x":0.0108,"c":57},{"t":"p","r":1,"g":"24-27","x":0.016,"c":22.6},{"t":"p","r":1,"g":"24-27","x":0.0215,"c":15.6},{"t":"p","r":1,"g":"24-27","x":0.029,"c":15.6},{"t":"p","r":1,"g":"24-27","x":0.032,"c":13},{"t":"p","r":1,"g":"24-27","x":0.035,"c":9},{"t":"p","r":1,"g":"24-27","x":0.039,"c":6.1},{"t":"p","r":1,"g":"24-27","x":0.047,"c":5.7},{"t":"p","r":1,"g":"24-27","x":0.052,"c":5.1},{"t":"p","r":1,"g":"24-27","x":0.058,"c":4.7},{"t":"p","r":1,"g":"24-27","x":0.047,"c":2.9},{"t":"p","r":1,"g":"24-27","x":0.056,"c":2.9},
{"t":"p","r":1,"g":"36-39","x":0.0104,"c":64},{"t":"p","r":1,"g":"36-39","x":0.0153,"c":33},{"t":"p","r":1,"g":"36-39","x":0.0205,"c":21},{"t":"p","r":1,"g":"36-39","x":0.0275,"c":13},{"t":"p","r":1,"g":"36-39","x":0.033,"c":8},{"t":"p","r":1,"g":"36-39","x":0.0335,"c":5.7},{"t":"p","r":1,"g":"36-39","x":0.036,"c":7},{"t":"p","r":1,"g":"36-39","x":0.038,"c":3.5},
{"t":"p","r":2,"g":"44-47","x":0.0106,"c":100},{"t":"p","r":2,"g":"44-47","x":0.0217,"c":50},{"t":"p","r":2,"g":"44-47","x":0.0263,"c":26.5},{"t":"p","r":2,"g":"44-47","x":0.033,"c":23.5},{"t":"p","r":2,"g":"44-47","x":0.04,"c":21},{"t":"p","r":2,"g":"44-47","x":0.0469,"c":17.3},{"t":"p","r":2,"g":"44-47","x":0.0546,"c":15},{"t":"p","r":2,"g":"44-47","x":0.062,"c":16},{"t":"p","r":2,"g":"44-47","x":0.069,"c":9.8},{"t":"p","r":2,"g":"44-47","x":0.08,"c":9},{"t":"p","r":2,"g":"44-47","x":0.092,"c":6.7},{"t":"p","r":2,"g":"44-47","x":0.105,"c":5.7},{"t":"p","r":2,"g":"44-47","x":0.119,"c":5},{"t":"p","r":2,"g":"44-47","x":0.127,"c":3.5},{"t":"p","r":2,"g":"44-47","x":0.105,"c":2.1},{"t":"p","r":2,"g":"44-47","x":0.135,"c":2.1},{"t":"p","r":2,"g":"44-47","x":0.174,"c":2},{"t":"p","r":2,"g":"44-47","x":0.174,"c":1.1},{"t":"p","r":2,"g":"44-47","x":0.14,"c":1},{"t":"p","r":2,"g":"44-47","x":0.12,"c":2.9},
{"t":"p","r":2,"g":"48-51","x":0.0108,"c":100},{"t":"p","r":2,"g":"48-51","x":0.016,"c":50},{"t":"p","r":2,"g":"48-51","x":0.02,"c":35},{"t":"p","r":2,"g":"48-51","x":0.026,"c":23.6},{"t":"p","r":2,"g":"48-51","x":0.031,"c":19.4},{"t":"p","r":2,"g":"48-51","x":0.038,"c":16},{"t":"p","r":2,"g":"48-51","x":0.042,"c":9},{"t":"p","r":2,"g":"48-51","x":0.05,"c":9},{"t":"p","r":2,"g":"48-51","x":0.062,"c":6.9},{"t":"p","r":2,"g":"48-51","x":0.068,"c":5},{"t":"p","r":2,"g":"48-51","x":0.074,"c":6.2},{"t":"p","r":2,"g":"48-51","x":0.072,"c":2.9},{"t":"p","r":2,"g":"48-51","x":0.056,"c":3.5},
{"t":"p","r":2,"g":"52-55","x":0.0104,"c":61},{"t":"p","r":2,"g":"52-55","x":0.0153,"c":34},{"t":"p","r":2,"g":"52-55","x":0.022,"c":22},{"t":"p","r":2,"g":"52-55","x":0.029,"c":16},{"t":"p","r":2,"g":"52-55","x":0.039,"c":11},{"t":"p","r":2,"g":"52-55","x":0.047,"c":8},{"t":"p","r":2,"g":"52-55","x":0.057,"c":6.9},{"t":"p","r":2,"g":"52-55","x":0.07,"c":6.2},{"t":"p","r":2,"g":"52-55","x":0.085,"c":6.2},{"t":"p","r":2,"g":"52-55","x":0.1,"c":5.5},{"t":"p","r":2,"g":"52-55","x":0.12,"c":5.5},{"t":"p","r":2,"g":"52-55","x":0.11,"c":3.5},{"t":"p","r":2,"g":"52-55","x":0.145,"c":2.9},{"t":"p","r":2,"g":"52-55","x":0.17,"c":3.2},{"t":"p","r":2,"g":"52-55","x":0.2,"c":3.2},{"t":"p","r":2,"g":"52-55","x":0.19,"c":1.9},{"t":"p","r":2,"g":"52-55","x":0.17,"c":1.9},{"t":"p","r":2,"g":"52-55","x":0.22,"c":1.6},{"t":"p","r":2,"g":"52-55","x":0.098,"c":1.1},{"t":"p","r":2,"g":"52-55","x":0.12,"c":1.1},{"t":"p","r":2,"g":"52-55","x":0.14,"c":1.1},
{"t":"p","r":3,"g":"56-59","x":0.0104,"c":146},{"t":"p","r":3,"g":"56-59","x":0.0162,"c":76},{"t":"p","r":3,"g":"56-59","x":0.0263,"c":46},{"t":"p","r":3,"g":"56-59","x":0.035,"c":35},{"t":"p","r":3,"g":"56-59","x":0.047,"c":24},{"t":"p","r":3,"g":"56-59","x":0.057,"c":16},{"t":"p","r":3,"g":"56-59","x":0.069,"c":15},{"t":"p","r":3,"g":"56-59","x":0.075,"c":12.9},{"t":"p","r":3,"g":"56-59","x":0.084,"c":15},{"t":"p","r":3,"g":"56-59","x":0.084,"c":8.4},{"t":"p","r":3,"g":"56-59","x":0.1,"c":10},{"t":"p","r":3,"g":"56-59","x":0.11,"c":6.8},{"t":"p","r":3,"g":"56-59","x":0.12,"c":9},{"t":"p","r":3,"g":"56-59","x":0.08,"c":3.2},{"t":"p","r":3,"g":"56-59","x":0.09,"c":4.7},{"t":"p","r":3,"g":"56-59","x":0.12,"c":5.6},{"t":"p","r":3,"g":"56-59","x":0.12,"c":1},{"t":"p","r":3,"g":"56-59","x":0.125,"c":5},{"t":"p","r":3,"g":"56-59","x":0.11,"c":3.8},
{"t":"p","r":3,"g":"68-71","x":0.0108,"c":135},{"t":"p","r":3,"g":"68-71","x":0.026,"c":26},{"t":"p","r":3,"g":"68-71","x":0.035,"c":21},{"t":"p","r":3,"g":"68-71","x":0.042,"c":17.8},{"t":"p","r":3,"g":"68-71","x":0.051,"c":14.6},{"t":"p","r":3,"g":"68-71","x":0.074,"c":13},{"t":"p","r":3,"g":"68-71","x":0.082,"c":11},{"t":"p","r":3,"g":"68-71","x":0.09,"c":9.2},{"t":"p","r":3,"g":"68-71","x":0.099,"c":8.2},{"t":"p","r":3,"g":"68-71","x":0.11,"c":7.3},{"t":"p","r":3,"g":"68-71","x":0.12,"c":6.3},{"t":"p","r":3,"g":"68-71","x":0.133,"c":4.6},{"t":"p","r":3,"g":"68-71","x":0.146,"c":3.8},{"t":"p","r":3,"g":"68-71","x":0.16,"c":2.1},{"t":"p","r":3,"g":"68-71","x":0.178,"c":1},{"t":"p","r":3,"g":"68-71","x":0.11,"c":4.6},{"t":"p","r":3,"g":"68-71","x":0.09,"c":5.6},{"t":"p","r":3,"g":"68-71","x":0.068,"c":6.3},{"t":"p","r":3,"g":"68-71","x":0.062,"c":8.2},
{"t":"p","r":3,"g":"72-75","x":0.0104,"c":73},{"t":"p","r":3,"g":"72-75","x":0.0153,"c":46},{"t":"p","r":3,"g":"72-75","x":0.022,"c":38},{"t":"p","r":3,"g":"72-75","x":0.026,"c":34},{"t":"p","r":3,"g":"72-75","x":0.03,"c":21},{"t":"p","r":3,"g":"72-75","x":0.039,"c":18},{"t":"p","r":3,"g":"72-75","x":0.047,"c":15},{"t":"p","r":3,"g":"72-75","x":0.057,"c":12},{"t":"p","r":3,"g":"72-75","x":0.07,"c":10},{"t":"p","r":3,"g":"72-75","x":0.076,"c":6.8},{"t":"p","r":3,"g":"72-75","x":0.092,"c":5.6},{"t":"p","r":3,"g":"72-75","x":0.11,"c":4.6},{"t":"p","r":3,"g":"72-75","x":0.134,"c":3.8},{"t":"p","r":3,"g":"72-75","x":0.162,"c":5.6},{"t":"p","r":3,"g":"72-75","x":0.18,"c":4.6},{"t":"p","r":3,"g":"72-75","x":0.2,"c":3.8},{"t":"p","r":3,"g":"72-75","x":0.22,"c":2},{"t":"p","r":3,"g":"72-75","x":0.18,"c":2},{"t":"p","r":3,"g":"72-75","x":0.12,"c":2},{"t":"p","r":3,"g":"72-75","x":0.1,"c":2},{"t":"p","r":3,"g":"72-75","x":0.18,"c":1},{"t":"p","r":3,"g":"72-75","x":0.23,"c":1},{"t":"p","r":3,"g":"72-75","x":0.16,"c":3.3}
]},
"spacing":5,
"resolve":{"scale":{"color":"independent"},"legend":{"color":"independent"}},
"hconcat":[
{"spacing":4,
"resolve":{"scale":{"color":"independent"},"legend":{"color":"independent"}},
"vconcat":[
{"spacing":1,
"vconcat":[
{"data":{"name":"aLab"},
"facet":{"column":{"field":"n","type":"nominal","sort":["TP53","NOTCH1","Other genes","Synonymous"],"header":null}},
"spacing":4,
"spec":{"width":80,"height":9,"layer":[
{"mark":{"type":"rect","color":"#d9d9d9"},"encoding":{}},
{"mark":{"type":"text","fontSize":6,"color":"#1a1a1a"},"encoding":{"text":{"field":"n","type":"nominal"}}},
{"mark":{"type":"point","opacity":0},"encoding":{"y":{"datum":0.5,"type":"quantitative","scale":{"domain":[0,1]},"axis":{"title":"a","titleAngle":0,"titleAlign":"right","titleBaseline":"middle","titleFontWeight":"bold","titleFontSize":8,"titleColor":"#000","titlePadding":18,"labels":false,"ticks":false,"domain":false}}}}
]}},
{"data":{"name":"a"},
"facet":{"column":{"field":"g","type":"nominal","sort":["T","N","O","S"],"header":null}},
"spacing":4,
"spec":{"width":80,"height":104,
"encoding":{"x":{"field":"a","type":"quantitative","scale":{"domain":[17.4,79.4],"nice":false,"zero":false},"axis":{"values":[20,40,60],"title":"Age"}},
"y":{"field":"v","type":"quantitative","scale":{"type":"log","domain":[0.0027,8.1],"nice":false},"axis":{"values":[0.01,0.1,1],"format":".2f","title":"Area"}}},
"layer":[
{"transform":[{"filter":"datum.k=='p'"}],"mark":{"type":"circle","size":4,"opacity":0.8},"encoding":{"color":{"field":"g","type":"nominal","scale":{"domain":["T","N","O","S"],"range":["#2c3c62","#d3db86","#86973a","#8badbd"]},"legend":null}}},
{"transform":[{"filter":"datum.k=='m'"}],"mark":{"type":"square","filled":false,"size":28,"color":"#7a7a7a","strokeWidth":0.8}}
]}}
]},
{"spacing":6,
"resolve":{"scale":{"color":"independent"},"legend":{"color":"independent"}},
"hconcat":[
{"title":"b","data":{"name":"b"},"width":62,"height":85,
"encoding":{"x":{"field":"m","type":"nominal","sort":null,"axis":{"labelAngle":-45,"title":null,"labelExpr":"datum.value == 'Exponential + Power law' ? ['Exponential', '+ Power law'] : datum.value"}}},
"layer":[
{"mark":{"type":"rule","color":"#a6a6a6","strokeWidth":1.8},"encoding":{"y":{"field":"lo","type":"quantitative","scale":{"domain":[1140,1640],"nice":false,"zero":false},"axis":{"values":[1200,1300,1400,1500,1600],"title":"WAIC"}},"y2":{"field":"hi"}}},
{"mark":{"type":"square","filled":true,"size":6,"color":"#000","opacity":1},"encoding":{"y":{"field":"v","type":"quantitative"}}}
]},
{"title":"c","data":{"name":"c"},"width":106,"height":93,
"encoding":{"x":{"field":"age","type":"nominal","scale":{"type":"band","domain":["20-23","24-27","36-39","44-47","48-51","52-55","56-59","68-71","72-75"],"paddingInner":0.25,"paddingOuter":0.175},"axis":{"labelAngle":-45,"title":null}},
"xOffset":{"field":"s","type":"nominal","scale":{"domain":["Non-Synonymous","Synonymous"]}},
"color":{"field":"s","type":"nominal","scale":{"domain":["Non-Synonymous","Synonymous"],"range":["#a83a36","#2e4f57"]},"legend":null}},
"layer":[
{"mark":{"type":"rule","strokeWidth":1.6,"opacity":0.35},"encoding":{"y":{"field":"lo","type":"quantitative","scale":{"domain":[0.32,2.3],"nice":false,"zero":false},"axis":{"values":[0.5,1,1.5,2],"format":".1f","title":"n₀μ / r λ ρ"}},"y2":{"field":"hi"}}},
{"mark":{"type":"rule","strokeWidth":2.6,"opacity":0.75},"encoding":{"y":{"field":"lo2","type":"quantitative"},"y2":{"field":"hi2"}}},
{"mark":{"type":"circle","size":22,"opacity":1},"encoding":{"y":{"field":"v","type":"quantitative"}}}
]},
{"title":"d","width":102,"height":92,
"encoding":{"x":{"field":"age","type":"nominal","scale":{"type":"band","domain":["20-23","24-27","36-39","44-47","48-51","52-55","56-59","68-71","72-75"],"paddingInner":0.45,"paddingOuter":0.325},"axis":{"labelAngle":-45,"title":null}},
"xOffset":{"field":"s","type":"nominal","scale":{"domain":["Non-Synonymous","Synonymous"]}},
"color":{"field":"s","type":"nominal","scale":{"domain":["Non-Synonymous","Synonymous"],"range":["#a83a36","#2e4f57"]},"legend":{"orient":"top-left","title":null,"symbolType":"stroke","symbolStrokeWidth":2,"symbolSize":70,"labelFontSize":6,"offset":3,"padding":0,"rowPadding":1}}},
"layer":[
{"data":{"name":"d"},"mark":{"type":"rule","strokeWidth":1.6,"opacity":0.35},"encoding":{"y":{"field":"lo","type":"quantitative","scale":{"type":"log","domain":[0.0065,0.48],"nice":false},"axis":{"values":[0.01,0.03,0.1,0.3],"format":".2f","title":"N(t)/ ρ"}},"y2":{"field":"hi"}}},
{"data":{"name":"d"},"mark":{"type":"rule","strokeWidth":2.6,"opacity":0.75},"encoding":{"y":{"field":"lo2","type":"quantitative"},"y2":{"field":"hi2"}}},
{"data":{"name":"d"},"mark":{"type":"circle","size":22,"opacity":1},"encoding":{"y":{"field":"v","type":"quantitative"}}},
{"data":{"name":"dfit"},"mark":{"type":"line","strokeWidth":1.4},"encoding":{"y":{"field":"v","type":"quantitative"}}}
]}
]}
]},
{"spacing":4,
"resolve":{"scale":{"color":"independent"},"legend":{"color":"independent"}},
"vconcat":[
{"spacing":1,"vconcat":[
{"data":{"name":"eLab"},"transform":[{"filter":"datum.r==1"}],
"facet":{"column":{"field":"n","type":"nominal","sort":["20-23","24-27","36-39"],"header":null}},"spacing":4,
"spec":{"width":61,"height":8,"layer":[
{"mark":{"type":"rect","color":"#d9d9d9"},"encoding":{}},
{"mark":{"type":"text","fontSize":6,"color":"#1a1a1a"},"encoding":{"text":{"field":"n","type":"nominal"}}},
{"mark":{"type":"point","opacity":0},"encoding":{"y":{"datum":0.5,"type":"quantitative","scale":{"domain":[0,1]},"axis":{"title":"e","titleAngle":0,"titleAlign":"right","titleBaseline":"middle","titleFontWeight":"bold","titleFontSize":8,"titleColor":"#000","titlePadding":20,"labels":false,"ticks":false,"domain":false}}}}
]}},
{"data":{"name":"e"},"transform":[{"filter":"datum.r==1"}],
"facet":{"column":{"field":"g","type":"nominal","sort":["20-23","24-27","36-39"],"header":null}},"spacing":4,
"spec":{"width":61,"height":70,
"encoding":{"x":{"field":"x","type":"quantitative","scale":{"type":"log","domain":[0.0091,0.327],"nice":false},"axis":null}},
"layer":[
{"transform":[{"filter":"datum.t=='b'"}],"mark":{"type":"area"},"encoding":{"y":{"field":"l95","type":"quantitative","scale":{"type":"log","domain":[0.06,170],"nice":false},"axis":{"values":[0.1,1,10,100],"format":".1f","title":null}},"y2":{"field":"h95"},"color":{"datum":"0.95","type":"nominal","scale":{"domain":["0.95","0.8","0.5"],"range":["#d3e5f5","#95c3e5","#2f7fc1"]},"legend":null}}},
{"transform":[{"filter":"datum.t=='b'"}],"mark":{"type":"area"},"encoding":{"y":{"field":"l80","type":"quantitative"},"y2":{"field":"h80"},"color":{"datum":"0.8","type":"nominal","legend":null}}},
{"transform":[{"filter":"datum.t=='b'"}],"mark":{"type":"area"},"encoding":{"y":{"field":"l50","type":"quantitative"},"y2":{"field":"h50"},"color":{"datum":"0.5","type":"nominal","legend":null}}},
{"transform":[{"filter":"datum.t=='b'"}],"mark":{"type":"line","color":"#123a6e","strokeWidth":1.1},"encoding":{"y":{"field":"m","type":"quantitative"}}},
{"transform":[{"filter":"datum.t=='p'"}],"mark":{"type":"circle","size":4,"color":"#000","opacity":1},"encoding":{"y":{"field":"c","type":"quantitative"}}}
]}}
]},
{"spacing":1,"vconcat":[
{"data":{"name":"eLab"},"transform":[{"filter":"datum.r==2"}],
"facet":{"column":{"field":"n","type":"nominal","sort":["44-47","48-51","52-55"],"header":null}},"spacing":4,
"spec":{"width":61,"height":8,"layer":[
{"mark":{"type":"rect","color":"#d9d9d9"},"encoding":{}},
{"mark":{"type":"text","fontSize":6,"color":"#1a1a1a"},"encoding":{"text":{"field":"n","type":"nominal"}}}
]}},
{"data":{"name":"e"},"transform":[{"filter":"datum.r==2"}],
"facet":{"column":{"field":"g","type":"nominal","sort":["44-47","48-51","52-55"],"header":null}},"spacing":4,
"spec":{"width":61,"height":70,
"encoding":{"x":{"field":"x","type":"quantitative","scale":{"type":"log","domain":[0.0091,0.327],"nice":false},"axis":null}},
"layer":[
{"transform":[{"filter":"datum.t=='b'"}],"mark":{"type":"area"},"encoding":{"y":{"field":"l95","type":"quantitative","scale":{"type":"log","domain":[0.06,170],"nice":false},"axis":{"values":[0.1,1,10,100],"format":".1f","title":"Counts"}},"y2":{"field":"h95"},"color":{"datum":"0.95","type":"nominal","scale":{"domain":["0.95","0.8","0.5"],"range":["#d3e5f5","#95c3e5","#2f7fc1"]},"legend":{"title":null,"orient":"none","legendX":194,"legendY":33,"symbolType":"square","symbolSize":70,"rowPadding":0,"labelFontSize":6,"symbolStrokeWidth":0,"padding":0}}}},
{"transform":[{"filter":"datum.t=='b'"}],"mark":{"type":"area"},"encoding":{"y":{"field":"l80","type":"quantitative"},"y2":{"field":"h80"},"color":{"datum":"0.8","type":"nominal","legend":null}}},
{"transform":[{"filter":"datum.t=='b'"}],"mark":{"type":"area"},"encoding":{"y":{"field":"l50","type":"quantitative"},"y2":{"field":"h50"},"color":{"datum":"0.5","type":"nominal","legend":null}}},
{"transform":[{"filter":"datum.t=='b'"}],"mark":{"type":"line","color":"#123a6e","strokeWidth":1.1},"encoding":{"y":{"field":"m","type":"quantitative"}}},
{"transform":[{"filter":"datum.t=='p'"}],"mark":{"type":"circle","size":4,"color":"#000","opacity":1},"encoding":{"y":{"field":"c","type":"quantitative"}}}
]}}
]},
{"spacing":1,"vconcat":[
{"data":{"name":"eLab"},"transform":[{"filter":"datum.r==3"}],
"facet":{"column":{"field":"n","type":"nominal","sort":["56-59","68-71","72-75"],"header":null}},"spacing":4,
"spec":{"width":61,"height":8,"layer":[
{"mark":{"type":"rect","color":"#d9d9d9"},"encoding":{}},
{"mark":{"type":"text","fontSize":6,"color":"#1a1a1a"},"encoding":{"text":{"field":"n","type":"nominal"}}}
]}},
{"data":{"name":"e"},"transform":[{"filter":"datum.r==3"}],
"facet":{"column":{"field":"g","type":"nominal","sort":["56-59","68-71","72-75"],"header":null}},"spacing":4,
"spec":{"width":61,"height":70,
"encoding":{"x":{"field":"x","type":"quantitative","scale":{"type":"log","domain":[0.0091,0.327],"nice":false},"axis":{"values":[0.01,0.03,0.1,0.3],"format":".2f","labelAngle":-45,"title":"Area"}}},
"layer":[
{"transform":[{"filter":"datum.t=='b'"}],"mark":{"type":"area"},"encoding":{"y":{"field":"l95","type":"quantitative","scale":{"type":"log","domain":[0.06,170],"nice":false},"axis":{"values":[0.1,1,10,100],"format":".1f","title":null}},"y2":{"field":"h95"},"color":{"datum":"0.95","type":"nominal","scale":{"domain":["0.95","0.8","0.5"],"range":["#d3e5f5","#95c3e5","#2f7fc1"]},"legend":null}}},
{"transform":[{"filter":"datum.t=='b'"}],"mark":{"type":"area"},"encoding":{"y":{"field":"l80","type":"quantitative"},"y2":{"field":"h80"},"color":{"datum":"0.8","type":"nominal","legend":null}}},
{"transform":[{"filter":"datum.t=='b'"}],"mark":{"type":"area"},"encoding":{"y":{"field":"l50","type":"quantitative"},"y2":{"field":"h50"},"color":{"datum":"0.5","type":"nominal","legend":null}}},
{"transform":[{"filter":"datum.t=='b'"}],"mark":{"type":"line","color":"#123a6e","strokeWidth":1.1},"encoding":{"y":{"field":"m","type":"quantitative"}}},
{"transform":[{"filter":"datum.t=='p'"}],"mark":{"type":"circle","size":4,"color":"#000","opacity":1},"encoding":{"y":{"field":"c","type":"quantitative"}}}
]}}
]}
]}
]
}
